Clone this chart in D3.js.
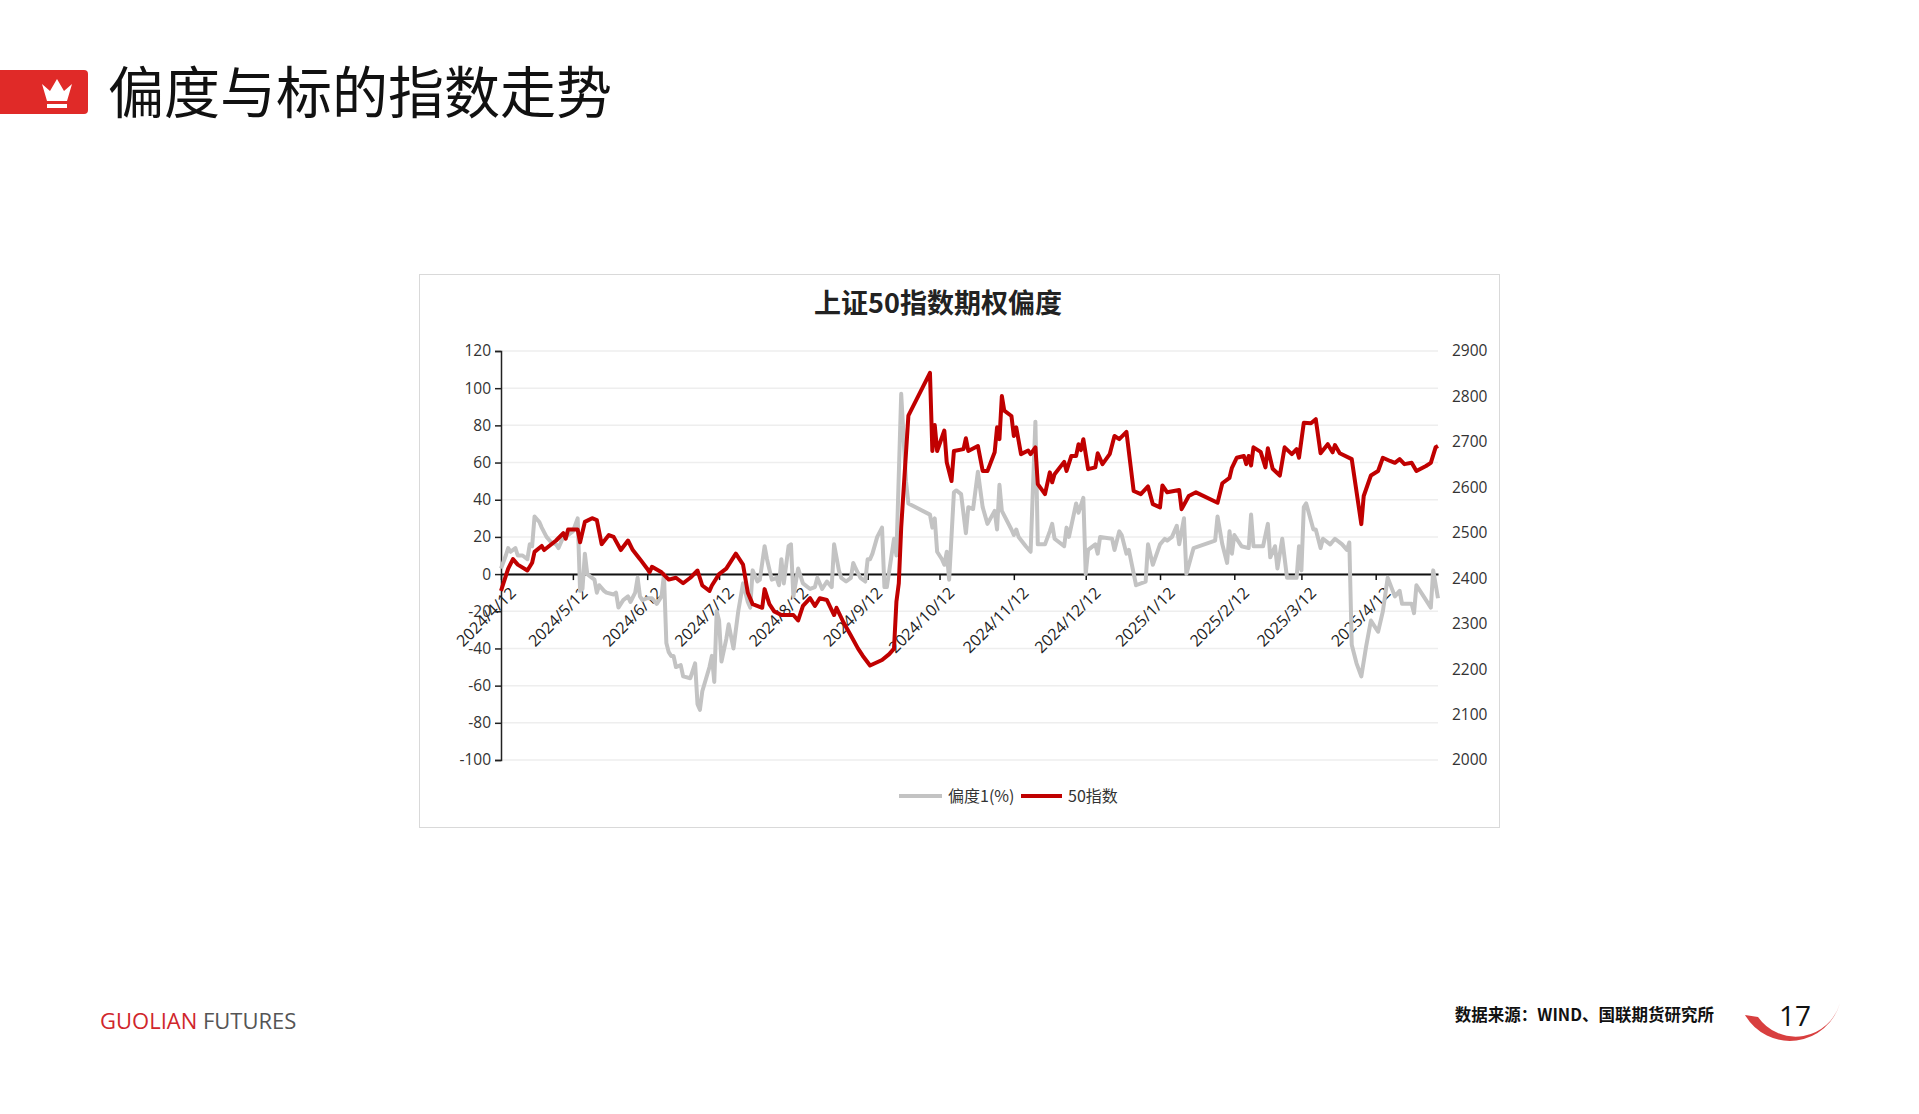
<!DOCTYPE html>
<html>
<head>
<meta charset="utf-8">
<script src="https://cdn.jsdelivr.net/npm/d3@7"></script>
<style>
  body { margin: 0; background: #fff; }
  svg { display: block; }
</style>
</head>
<body>
<svg id="chart" width="1919" height="1114"></svg>
<script>
// days counted from 2024/4/12
var START = new Date(2024, 3, 12);

var skewDays = [0,2,3,4,6,7,9,11,12,13,14,16,17,19,21,23,24,26,27,29,30,32,33,34,35,36,38,39,40,41,43,44,47,48,49,51,53,54,56,57,58,59,61,63,65,67,68,69,70,71,72,73,75,76,79,81,82,83,84,87,88,89,90,91,92,94,95,97,99,101,103,104,105,107,108,110,111,113,115,116,117,118,120,121,122,124,126,129,131,132,134,136,138,139,141,142,144,146,147,148,150,152,153,154,155,157,159,160,161,164,165,167,169,170,179,180,181,182,184,185,186,187,189,190,192,194,195,197,199,201,203,206,207,208,209,213,214,215,216,219,221,223,224,227,229,230,231,235,236,237,240,241,243,244,245,248,249,250,255,256,258,259,261,262,265,269,270,272,275,277,278,280,282,283,285,286,289,298,299,301,303,304,305,306,309,312,313,314,318,320,321,323,324,326,328,332,333,334,335,336,339,340,342,343,346,348,351,353,354,355,357,359,361,363,366,368,370,373,375,376,380,381,382,385,388,389,391];
var skewValues = [3,10,14,12,14,10,10,8,16,15,31,28,25,20,17,16,14,20,20,22,23,30,-9,-8,11,0,-2,-3,-10,-6,-9,-10,-11,-10,-18,-14,-12,-15,-10,-2,-12,-14,-13,-13,-16,-12,0,-37,-42,-44,-44,-50,-49,-55,-56,-48,-70,-73,-63,-50,-44,-58,-20,-25,-47,-35,-27,-40,-20,-5,-15,-18,2,-4,-3,15,8,-3,-2,-6,8,-5,15,16,-12,3,-5,-8,-7,-2,-8,-4,-7,16,2,-2,-4,-2,6,3,-2,-4,8,8,11,20,25,-7,-7,19,10,97,50,38,32,25,30,12,8,5,12,-3,44,45,43,22,36,35,55,36,27,34,24,48,34,24,21,24,20,15,12,82,16,16,23,27,19,15,25,20,38,33,41,0,13,16,11,20,19,13,23,21,11,13,-6,-4,16,5,16,19,18,20,26,16,30,0,14,18,31,16,6,23,11,21,15,14,32,15,15,27,9,15,3,19,-2,-2,15,2,36,38,24,24,14,19,16,19,16,13,17,-38,-48,-55,-39,-25,-31,-20,-2,-12,-9,-16,-16,-21,-6,-12,-18,2,-13];

var indexDays = [0,3,5,7,11,13,14,17,18,23,26,27,28,32,33,35,38,40,42,45,47,50,53,55,58,61,62,63,67,70,73,76,79,82,84,87,88,91,94,98,101,103,105,109,110,112,114,117,122,124,126,129,131,133,136,139,140,143,146,149,151,154,159,162,164,165,166,167,170,179,180,181,182,185,186,188,189,193,194,195,199,201,203,206,207,208,209,210,213,214,215,217,220,221,223,224,227,229,230,231,235,236,238,240,241,242,243,245,248,249,251,254,256,258,261,264,267,270,272,275,276,278,283,284,287,290,299,301,304,305,307,310,311,312,313,314,317,319,320,322,325,327,330,332,333,335,338,340,342,345,347,348,350,355,359,360,363,366,368,371,373,375,377,380,382,386,388,390,391];
var indexValues = [2372,2421,2442,2430,2417,2434,2458,2471,2462,2483,2499,2487,2507,2507,2479,2524,2532,2528,2475,2495,2491,2462,2483,2462,2442,2421,2413,2425,2413,2397,2401,2389,2401,2417,2384,2372,2384,2409,2421,2454,2430,2368,2343,2335,2376,2343,2327,2319,2319,2307,2339,2356,2339,2356,2352,2319,2335,2302,2274,2245,2229,2208,2220,2233,2245,2348,2389,2512,2758,2852,2680,2737,2680,2725,2655,2614,2680,2684,2708,2680,2691,2636,2636,2677,2732,2706,2801,2769,2757,2713,2732,2673,2681,2673,2688,2607,2585,2633,2611,2629,2656,2636,2669,2669,2695,2682,2706,2640,2644,2675,2651,2673,2713,2706,2722,2592,2585,2602,2563,2556,2604,2589,2594,2552,2581,2589,2566,2609,2621,2643,2665,2669,2651,2669,2648,2688,2678,2644,2686,2641,2626,2688,2673,2684,2665,2742,2741,2750,2675,2695,2677,2693,2675,2662,2519,2581,2626,2636,2665,2658,2654,2662,2651,2654,2636,2647,2654,2688,2691];

var leftTicks = [120,100,80,60,40,20,0,-20,-40,-60,-80,-100];
var rightTicks = [2900,2800,2700,2600,2500,2400,2300,2200,2100,2000];
var monthTicks = ["2024/4/12","2024/5/12","2024/6/12","2024/7/12","2024/8/12","2024/9/12","2024/10/12","2024/11/12","2024/12/12","2025/1/12","2025/2/12","2025/3/12","2025/4/12"];
var seriesNames = ["偏度1(%)", "50指数"];

var toDate = function(d) { return d3.timeDay.offset(START, d); };
var parseTick = d3.timeParse("%Y/%m/%d");

var svg = d3.select("#chart");
var cjk = "'Noto Sans CJK SC', 'Noto Sans', sans-serif";
var num = "'Open Sans', sans-serif";

// header
svg.append("rect").attr("x", 0).attr("y", 70).attr("width", 88).attr("height", 44).attr("rx", 4).attr("fill", "#e02a28");
svg.append("rect").attr("x", 0).attr("y", 70).attr("width", 20).attr("height", 44).attr("fill", "#e02a28");
svg.append("path").attr("d", "M47,101 L42,84 L50,91 L57,79 L64,91 L72,84 L67,101 Z").attr("fill", "#fff");
svg.append("rect").attr("x", 47).attr("y", 104).attr("width", 20).attr("height", 4).attr("fill", "#fff");
svg.append("text").attr("x", 108).attr("y", 113).attr("font-family", cjk).attr("font-size", 56).attr("fill", "#111").text("偏度与标的指数走势");

// chart box
svg.append("rect").attr("x", 419.5).attr("y", 274.5).attr("width", 1080).attr("height", 553).attr("fill", "#fff").attr("stroke", "#d9d9d9");
svg.append("text").attr("x", 938).attr("y", 313).attr("text-anchor", "middle").attr("font-family", cjk).attr("font-weight", "bold").attr("font-size", 27).attr("fill", "#222").text("上证50指数期权偏度");

var plotL = 501, plotR = 1438, plotT = 351, plotB = 760;
var x = d3.scaleTime().domain([START, toDate(391)]).range([plotL, plotR]);
var yL = d3.scaleLinear().domain([-100, 120]).range([plotB, plotT]);
var yR = d3.scaleLinear().domain([2000, 2900]).range([plotB, plotT]);

svg.append("g").selectAll("line").data(leftTicks).enter().append("line")
  .attr("x1", plotL).attr("x2", plotR).attr("y1", function(d){ return yL(d); }).attr("y2", function(d){ return yL(d); })
  .attr("stroke", "#eeeeee").attr("stroke-width", 1.5);

var axL = svg.append("g").attr("transform", "translate(" + plotL + ",0)")
  .call(d3.axisLeft(yL).tickValues(leftTicks).tickSize(6).tickPadding(4).tickFormat(function(d){ return String(d); }));
axL.selectAll("text").attr("font-family", num).attr("font-size", 15.5).attr("fill", "#333");
axL.selectAll("line, path").attr("stroke", "#222").attr("stroke-width", 1.5);

var axR = svg.append("g").attr("transform", "translate(" + (plotR + 10) + ",0)")
  .call(d3.axisRight(yR).tickValues(rightTicks).tickSize(0).tickPadding(4).tickFormat(d3.format("d")));
axR.select("path").remove();
axR.selectAll("text").attr("font-family", num).attr("font-size", 15.5).attr("fill", "#333");

var axX = svg.append("g").attr("transform", "translate(0," + yL(0) + ")")
  .call(d3.axisBottom(x).tickValues(monthTicks.map(parseTick)).tickSize(6).tickSizeOuter(0)
    .tickFormat(function(d, i){ return monthTicks[i]; }));
axX.select("path").attr("stroke", "#111").attr("stroke-width", 2);
axX.selectAll("line").attr("stroke", "#111").attr("stroke-width", 1.5);
axX.selectAll("text").attr("font-family", num).attr("font-size", 16).attr("fill", "#222")
  .attr("text-anchor", "end").attr("dx", "-0.2em").attr("dy", "1em")
  .attr("transform", "rotate(-45)");

var skewLine = d3.line().x(function(d, i){ return x(toDate(skewDays[i])); }).y(function(d){ return yL(d); });
var indexLine = d3.line().x(function(d, i){ return x(toDate(indexDays[i])); }).y(function(d){ return yR(d); });

svg.append("path").datum(skewValues).attr("d", skewLine).attr("fill", "none")
  .attr("stroke", "#c3c3c3").attr("stroke-width", 4).attr("stroke-linejoin", "round");
svg.append("path").datum(indexValues).attr("d", indexLine).attr("fill", "none")
  .attr("stroke", "#c00000").attr("stroke-width", 4).attr("stroke-linejoin", "round");

// legend
var legend = svg.append("g").attr("transform", "translate(899,796)");
legend.append("line").attr("x1", 0).attr("x2", 43).attr("stroke", "#c3c3c3").attr("stroke-width", 4);
legend.append("text").attr("x", 49).attr("y", 6).attr("font-family", cjk).attr("font-size", 16).attr("fill", "#333").text(seriesNames[0]);
legend.append("line").attr("x1", 122).attr("x2", 163).attr("stroke", "#c00000").attr("stroke-width", 4);
legend.append("text").attr("x", 169).attr("y", 6).attr("font-family", cjk).attr("font-size", 16).attr("fill", "#333").text(seriesNames[1]);

// footer
var foot = svg.append("text").attr("x", 100).attr("y", 1029).attr("font-family", num).attr("font-size", 22);
foot.append("tspan").attr("fill", "#d0262b").text("GUOLIAN ");
foot.append("tspan").attr("fill", "#555").text("FUTURES");
svg.append("text").attr("x", 1714).attr("y", 1021).attr("text-anchor", "end").attr("font-family", cjk).attr("font-weight", "bold").attr("font-size", 16.5).attr("fill", "#111").text("数据来源：WIND、国联期货研究所");
svg.append("path").attr("d", "M1745,1015 A52,52 0 0 0 1840,1003 A46,46 0 0 1 1758,1017 Z").attr("fill", "#d42a2a").attr("opacity", 0.9);
svg.append("text").attr("x", 1795).attr("y", 1026).attr("text-anchor", "middle").attr("font-family", num).attr("font-size", 28).attr("fill", "#111").text("17");
</script>
</body>
</html>
